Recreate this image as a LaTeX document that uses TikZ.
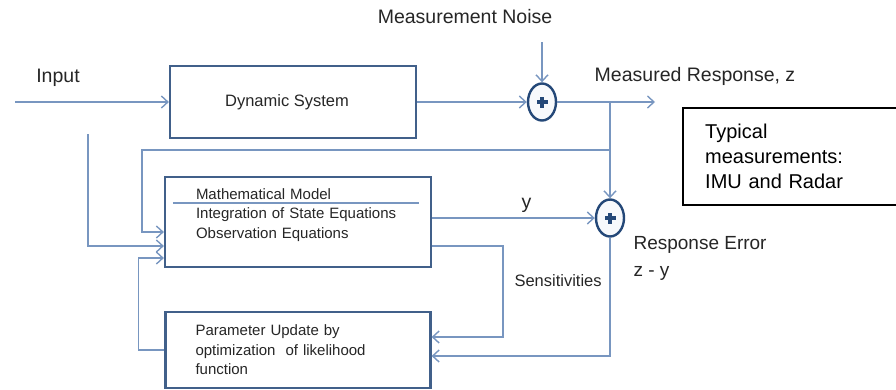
\documentclass[tikz,border=0pt]{standalone}
\usepackage{fontspec}
\setmainfont{Liberation Sans}
\usepackage{tikz}
\usetikzlibrary{calc,arrows.meta,positioning,shapes.geometric}
\definecolor{LineBlue}{HTML}{7896C0}
\definecolor{BoxBlue}{HTML}{41608A}
\definecolor{SumBlue}{HTML}{244878}
\definecolor{SumBG}{HTML}{F7F9FC}
\definecolor{TxtGray}{HTML}{262626}
\newcommand{\lblfont}{\fontsize{19.5}{23}\selectfont}
\newcommand{\boxfont}{\fontsize{15}{19.5}\selectfont}

\begin{document}
\begin{tikzpicture}[x=1pt, y=-1pt,
  every node/.style={font=\lblfont, text=TxtGray},
  blk/.style={draw=BoxBlue, line width=2.2pt, fill=white, inner sep=0pt,
              font=\boxfont},
  sum/.style={ellipse, draw=SumBlue, line width=2.4pt, fill=SumBG,
              minimum width=28, minimum height=37, inner sep=0pt,
              path picture={
                \fill[SumBlue] ([xshift=-5.5pt,yshift=-2pt]path picture bounding box.center)
                  rectangle ([xshift=5.5pt,yshift=2pt]path picture bounding box.center);
                \fill[SumBlue] ([xshift=-2pt,yshift=-5.5pt]path picture bounding box.center)
                  rectangle ([xshift=2pt,yshift=5.5pt]path picture bounding box.center);}},
  conn/.style={draw=LineBlue, line width=1.4pt},
  >={Straight Barb[length=6.5pt,width=12pt]}]
  \useasboundingbox (0,0) rectangle (896,389);

  % blocks
  \node[blk, minimum width=246, minimum height=72, font=\fontsize{16.5}{20}\selectfont]
    (ds) at (293,102) {Dynamic System\hspace*{12pt}};
  \node[blk, minimum width=266, minimum height=90, align=left, text width=204]
    (mm) at (298,222) {Mathematical Model\\Integration of State Equations\\Observation Equations\\[-8pt]\strut};
  \node[blk, minimum width=265, minimum height=76, align=left, text width=205]
    (pu) at (298,350) {Parameter Update by\\optimization\ \ of likelihood\\function};
  \node[sum] (sum1) at (542,102) {};
  \node[sum] (sum2) at (610,218) {};

  % labels
  \node (input) at (58,78) {Input};
  \node (noise) at (465,17) {Measurement Noise};
  \node (meas) at (695,76) {Measured Response, z};
  \node[anchor=west, align=left, font=\fontsize{19}{27}\selectfont] (err) at (630,258)
    {Response Error\\z - y};
  \node[anchor=west, font=\fontsize{16.5}{20}\selectfont] (sens) at (511,281) {Sensitivities};
  \node[anchor=north west, minimum height=97, text width=170, inner xsep=22,
        align=left, text=black, font=\fontsize{20}{25}\selectfont] (typ) at (683,108)
    {Typical\\measurements:\\IMU and Radar};
  % note frame, runs off the page edge
  \draw[black, line width=2pt] ($(typ.north east)+(40,0)$) -- (typ.north west)
    -- (typ.south west) -- ($(typ.south east)+(40,0)$);

  % free ends
  \coordinate (uin) at (15,102);
  \coordinate (nin) at (542,42);
  \coordinate (zout) at (655,102);
  \coordinate (br) at (610,102);
  \coordinate (fb) at (610,150);
  \coordinate (ub) at (88,134);

  % signal flow
  \draw[conn,->] (uin) -- (ds);
  \draw[conn,->] (ds) -- (sum1);
  \draw[conn,->] (nin) -- (sum1);
  \draw[conn,->] (sum1) -- (zout);
  \draw[conn,->] (br) -- (sum2);
  \draw[conn,->] (fb) -- (142,150) |- ($(mm.west)+(0,10)$);
  \draw[conn,->] (ub) |- ($(mm.west)+(0,24)$);
  \draw[conn,->] (pu.west) -- ++(-26,0) |- ($(mm.west)+(0,36)$);
  \draw[conn,->] ($(mm.east)+(0,-4)$) -- node[pos=0.58, above=1pt] (ylbl) {y} (sum2);
  \draw[conn,->] ($(mm.east)+(0,24)$) -- ++(71,0) |- ($(pu.east)+(0,-13)$);
  \draw[conn,->] (sum2) |- ($(pu.east)+(0,6)$);
  \draw[LineBlue, line width=1.6pt] ($(mm.north west)+(9,27)$) -- ($(mm.north east)+(-13,27)$);
\end{tikzpicture}
\end{document}
